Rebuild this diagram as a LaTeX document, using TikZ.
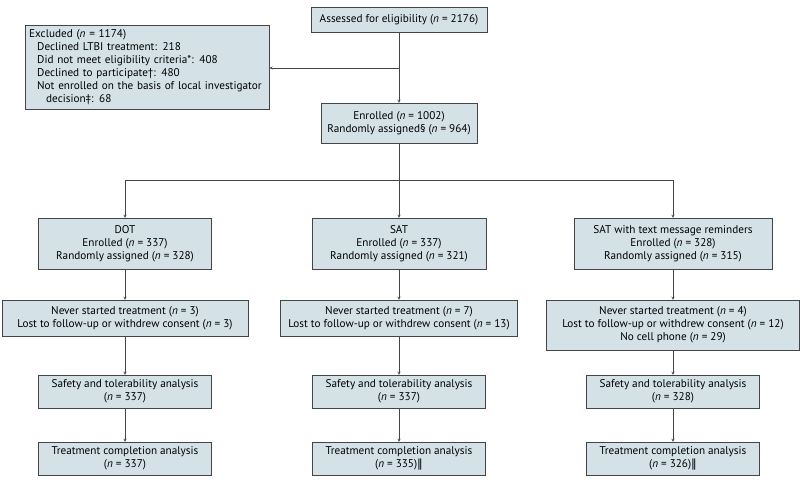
\documentclass[tikz,border=0pt]{standalone}
\usepackage{fontspec}
\setmainfont{PT Sans}
\newfontfamily\barfont{DejaVu Sans}

\definecolor{boxfill}{HTML}{D4E2E8}
\definecolor{boxline}{HTML}{454545}

\tikzset{
  box/.style={draw=boxline,fill=boxfill,text=black,align=center,inner xsep=2pt,inner ysep=0pt,
    font=\fontsize{11.2}{13}\selectfont},
  row/.style={box,minimum width=173,minimum height=33},
}
\newcommand{\nn}{\textit{n}}
\newcommand{\dbar}{{\barfont\char"2016}}

\begin{document}
\begin{tikzpicture}[x=1pt,y=-1pt,->,>=stealth,thin,color=boxline]

\useasboundingbox (0,0) rectangle (800,483);

\node[box,minimum width=176,minimum height=25] (assess) at (399,19.5) {Assessed for eligibility (\nn{} = 2176)};
\node[box,align=left,anchor=west,text width=240,inner xsep=2pt,minimum height=84] (excl) at (25,67) {\hspace*{2pt}Excluded (\nn{} = 1174)\\
\hspace*{10pt}Declined LTBI treatment: 218\\
\hspace*{10pt}Did not meet eligibility criteria*: 408\\
\hspace*{10pt}Declined to participate†: 480\\
\hspace*{10pt}Not enrolled on the basis of local investigator\\
\hspace*{19pt}decision‡: 68};
\node[box,minimum width=156,minimum height=40] (enr) at (399,123) {Enrolled (\nn{} = 1002)\\Randomly assigned§ (\nn{} = 964)};

% arms
\node[box,minimum width=173,minimum height=51] (dot) at (125,243.5) {DOT\\Enrolled (\nn{} = 337)\\Randomly assigned (\nn{} = 328)};
\node[box,minimum width=174,minimum height=51] (sat) at (399,243.5) {SAT\\Enrolled (\nn{} = 337)\\Randomly assigned (\nn{} = 321)};
\node[box,minimum width=198,minimum height=51] (sms) at (673,243.5) {SAT with text message reminders\\Enrolled (\nn{} = 328)\\Randomly assigned (\nn{} = 315)};

\node[box,minimum width=246,minimum height=36] (dotlost) at (125,318) {Never started treatment (\nn{} = 3)\\Lost to follow-up or withdrew consent (\nn{} = 3)};
\node[box,minimum width=237,minimum height=36] (satlost) at (399,318) {Never started treatment (\nn{} = 7)\\Lost to follow-up or withdrew consent (\nn{} = 13)};
\node[box,minimum width=253,minimum height=50] (smslost) at (673,325) {Never started treatment (\nn{} = 4)\\Lost to follow-up or withdrew consent (\nn{} = 12)\\No cell phone (\nn{} = 29)};

\node[row] (dotsafe) at (125,391.5) {Safety and tolerability analysis\\(\nn{} = 337)};
\node[row] (satsafe) at (399,391.5) {Safety and tolerability analysis\\(\nn{} = 337)};
\node[row] (smssafe) at (673,391.5) {Safety and tolerability analysis\\(\nn{} = 328)};

\node[row] (dotdone) at (125,458.5) {Treatment completion analysis\\(\nn{} = 337)};
\node[row] (satdone) at (399,458.5) {Treatment completion analysis\\(\nn{} = 335)\dbar};
\node[row] (smsdone) at (673,458.5) {Treatment completion analysis\\(\nn{} = 326)\dbar};

\coordinate (split) at (399,68);
\coordinate (fork) at (399,180);

\path [draw,-]
    (assess) -- (split)
    (enr) -- (fork)
    (fork -| dot) -- (fork -| sms)
;

\draw (split) -- (enr);
\draw (split) -- (split -| excl.east);

\draw (fork -| dot) -- (dot);
\draw (fork) -- (sat);
\draw (fork -| sms) -- (sms);

\foreach \c in {dot,sat,sms} {
  \draw (\c) -- (\c lost);
  \draw (\c lost) -- (\c safe);
  \draw (\c safe) -- (\c done);
}

\end{tikzpicture}
\end{document}
